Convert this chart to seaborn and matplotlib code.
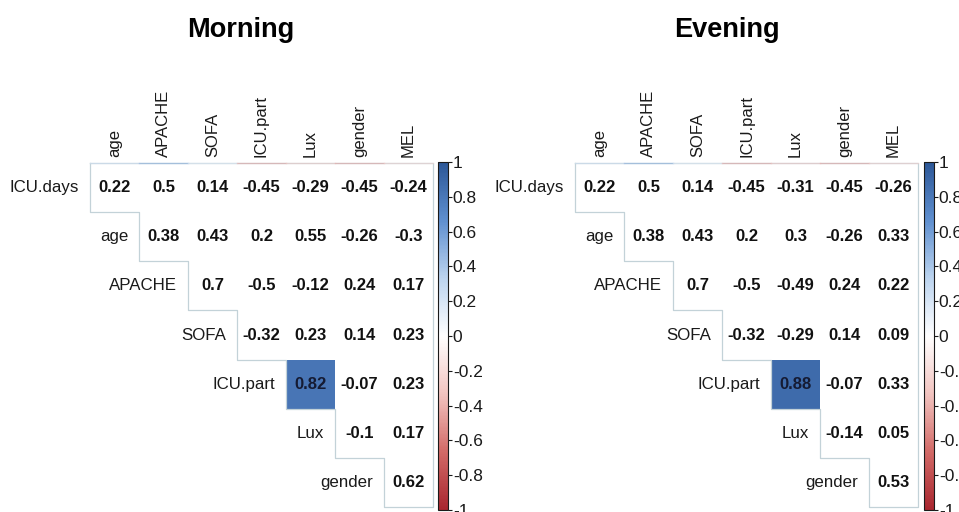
import numpy as np
import pandas as pd
import seaborn as sns
import matplotlib.pyplot as plt
from matplotlib.colors import LinearSegmentedColormap, Normalize

row_labels = ["ICU.days", "age", "APACHE", "SOFA", "ICU.part", "Lux", "gender"]
col_labels = ["age", "APACHE", "SOFA", "ICU.part", "Lux", "gender", "MEL"]

# upper-triangular correlation values, row by row (row i starts at column i)
morning_rows = [
    [0.22, 0.5, 0.14, -0.45, -0.29, -0.45, -0.24],
    [0.38, 0.43, 0.2, 0.55, -0.26, -0.3],
    [0.7, -0.5, -0.12, 0.24, 0.17],
    [-0.32, 0.23, 0.14, 0.23],
    [0.82, -0.07, 0.23],
    [-0.1, 0.17],
    [0.62],
]
evening_rows = [
    [0.22, 0.5, 0.14, -0.45, -0.31, -0.45, -0.26],
    [0.38, 0.43, 0.2, 0.3, -0.26, 0.33],
    [0.7, -0.5, -0.49, 0.24, 0.22],
    [-0.32, -0.29, 0.14, 0.09],
    [0.88, -0.07, 0.33],
    [-0.14, 0.05],
    [0.53],
]
# significant cells (row label, column label) that are filled with colour
morning_sig = [("ICU.part", "Lux")]
evening_sig = [("ICU.part", "Lux")]

titles = ["Morning", "Evening"]

cmap = LinearSegmentedColormap.from_list(
    "corr", ["#a8262f", "#d26a67", "#f2c4c0", "#ffffff", "#bcd4ef", "#5f8fcf", "#2c5797"])
norm = Normalize(-1, 1)

FONT = "Liberation Sans"
plt.rcParams["font.family"] = [FONT, "DejaVu Sans"]


def build(rows):
    n = len(row_labels)
    m = np.full((n, n), np.nan)
    for i, r in enumerate(rows):
        for k, v in enumerate(r):
            m[i, i + k] = v
    return pd.DataFrame(m, index=row_labels, columns=col_labels)


fig = plt.figure(figsize=(9.59, 5.12), dpi=100)

panels = [
    (morning_rows, morning_sig, [90, 433], [438, 448], 241),
    (evening_rows, evening_sig, [575, 918], [924, 934], 727),
]

W, H = 959.0, 512.0
for (rows, sig, gx, cx, tx), title in zip(panels, titles):
    df = build(rows)
    n = len(row_labels)
    mask = np.ones_like(df.values, dtype=bool)
    for (r, c) in sig:
        mask[row_labels.index(r), col_labels.index(c)] = False

    ax = fig.add_axes([gx[0] / W, 1 - 507 / H, (gx[1] - gx[0]) / W, 344 / H])
    cax = fig.add_axes([cx[0] / W, 1 - 510 / H, (cx[1] - cx[0]) / W, 348 / H])
    sns.heatmap(df, mask=mask, cmap=cmap, vmin=-1, vmax=1, ax=ax, cbar=True,
                cbar_ax=cax, xticklabels=False, yticklabels=False, square=False,
                linewidths=0)
    ax.set_xlabel("")
    ax.set_ylabel("")
    ax.set_xlim(0, n)
    ax.set_ylim(n, 0)
    for s in ax.spines.values():
        s.set_visible(False)

    # staircase outline
    edge = "#c3d2d8"
    xs = [0]
    ys = [0]
    for i in range(n):
        xs += [i, i + 1]
        ys += [i + 1, i + 1]
    xs += [n, n, 0]
    ys += [n, 0, 0]
    ax.plot(xs, ys, color=edge, lw=0.9, clip_on=False, zorder=3)
    # top edge tinted by first-row values
    for j, v in enumerate(df.values[0]):
        c = cmap(norm(v))
        ax.plot([j, j + 1], [0, 0], color=c, lw=1.0, alpha=0.55, clip_on=False, zorder=4)

    # values
    for i in range(n):
        for j in range(i, n):
            v = df.values[i, j]
            ax.text(j + 0.5, i + 0.5, f"{v:g}", ha="center", va="center",
                    fontsize=12, fontweight="bold",
                    color="#151b33" if not mask[i, j] else "#111111", family=FONT)
    # row labels on the diagonal
    for i, lab in enumerate(row_labels):
        ax.text(i - 0.22, i + 0.5, lab, ha="right", va="center", fontsize=12.2,
                color="#1a1a1a", family=FONT)
    # column labels
    for j, lab in enumerate(col_labels):
        ax.text(j + 0.5, -0.12, lab, ha="center", va="bottom", rotation=90,
                fontsize=12, color="#1a1a1a", family=FONT)

    # colorbar
    cb = ax.collections[0].colorbar
    ticks = [1, 0.8, 0.6, 0.4, 0.2, 0, -0.2, -0.4, -0.6, -0.8, -1]
    cb.set_ticks(ticks)
    cb.set_ticklabels([f"{t:g}" for t in ticks])
    cax.tick_params(labelsize=12.5, length=3, width=0.8, pad=0.5, direction="out",
                    colors="#1a1a1a")
    cb.outline.set_edgecolor("#1a1a1a")
    cb.outline.set_linewidth(0.8)
    cb.outline.set_visible(True)

    fig.text(tx / W, 1 - 30 / H, title, ha="center", va="center", fontsize=19.5,
             fontweight="bold", family=FONT)

fig.savefig("out.png", dpi=100, facecolor="white")
